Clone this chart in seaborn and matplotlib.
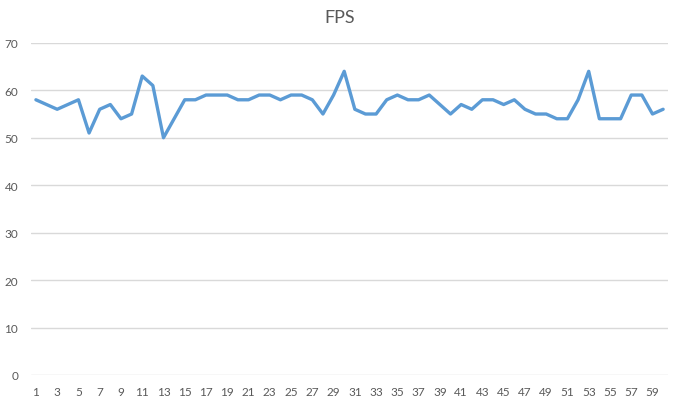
import matplotlib
matplotlib.use("Agg")
import matplotlib.pyplot as plt
import seaborn as sns
import pandas as pd

frames = list(range(1, 61))
fps = [58, 57, 56, 57, 58, 51, 56, 57, 54, 55,
       63, 61, 50, 54, 58, 58, 59, 59, 59, 58,
       58, 59, 59, 58, 59, 59, 58, 55, 59, 64,
       56, 55, 55, 58, 59, 58, 58, 59, 57, 55,
       57, 56, 58, 58, 57, 58, 56, 55, 55, 54,
       54, 58, 64, 54, 54, 54, 59, 59, 55, 56]
y_ticks = [0, 10, 20, 30, 40, 50, 60, 70]
x_tick_labels = [str(i) for i in range(1, 60, 2)]
title = "FPS"

sns.set_style("white")
plt.rcParams['font.family'] = ['Lato', 'DejaVu Sans']

df = pd.DataFrame({"frame": frames, "fps": fps})
df["pos"] = range(len(df))

fig = plt.figure(figsize=(6.8, 4.06), dpi=100)
ax = fig.add_axes([0.045, 0.074, 0.938, 0.818])

sns.lineplot(data=df, x="pos", y="fps", ax=ax, color="#5B9BD5", linewidth=2.4)

ax.set_xlim(-0.5, len(frames) - 0.5)
ax.set_ylim(0, 70)
ax.set_yticks(y_ticks)
ax.set_yticklabels([str(v) for v in y_ticks])
ax.set_xticks(list(range(0, 60, 2)))
ax.set_xticklabels(x_tick_labels)
ax.tick_params(axis="both", length=0, labelsize=8.5, colors="#595959")
ax.tick_params(axis="y", pad=9)
ax.tick_params(axis="x", pad=8)
ax.grid(axis="y", color="#D9D9D9", linewidth=1)
ax.set_axisbelow(True)
for s in ax.spines.values():
    s.set_visible(False)
ax.set_xlabel("")
ax.set_ylabel("")
fig.text(0.5, 0.955, title, ha="center", va="center", fontsize=13, color="#595959")

fig.savefig("out.png", dpi=100)
